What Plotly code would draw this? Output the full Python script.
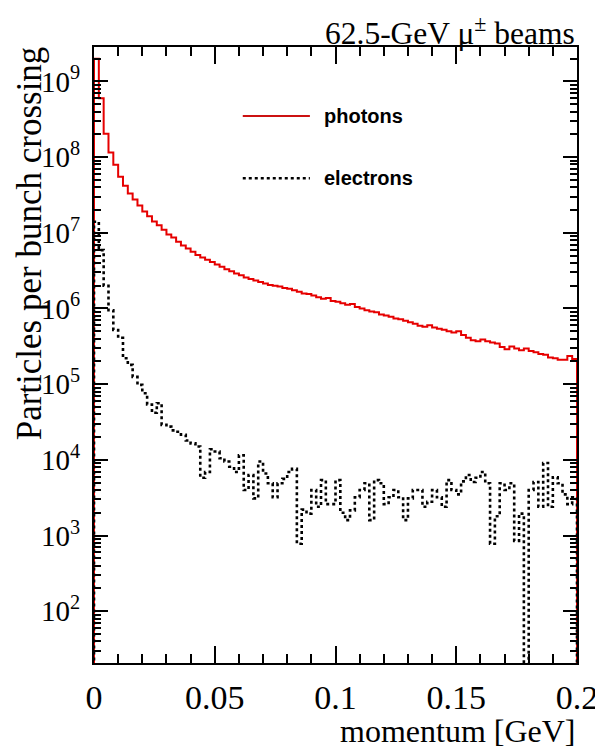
import numpy as np
import plotly.graph_objects as go

# ---------------- data ----------------
n_bins = 100
p_min, p_max = 0.0, 0.2          # momentum range [GeV]
below_axis = 1.0                 # value used for the histogram's drop to the floor

photons = [
    2.0e9, 6.0e8, 2.04e8, 1.15e8, 7.9e7, 5.5e7, 4.17e7, 3.31e7, 2.75e7, 2.29e7,
    1.91e7, 1.66e7, 1.41e7, 1.26e7, 1.10e7, 9.5e6, 8.7e6, 7.6e6, 6.8e6, 6.2e6,
    5.6e6, 5.1e6, 4.7e6, 4.4e6, 4.1e6, 3.8e6, 3.55e6, 3.3e6, 3.1e6, 2.9e6,
    2.75e6, 2.57e6, 2.45e6, 2.34e6, 2.24e6, 2.14e6, 2.04e6, 2.0e6, 1.95e6, 1.86e6,
    1.82e6, 1.74e6, 1.66e6, 1.58e6, 1.55e6, 1.48e6, 1.41e6, 1.35e6, 1.38e6, 1.26e6,
    1.23e6, 1.17e6, 1.12e6, 1.15e6, 1.05e6, 1.0e6, 9.5e5, 9.1e5, 8.9e5, 8.3e5,
    8.1e5, 7.8e5, 7.4e5, 7.2e5, 6.9e5, 6.6e5, 6.3e5, 5.9e5, 5.75e5, 6.0e5,
    5.6e5, 5.4e5, 5.25e5, 5.0e5, 4.8e5, 5.0e5, 4.45e5, 4.1e5, 3.8e5, 3.7e5,
    3.9e5, 3.7e5, 3.55e5, 3.45e5, 3.1e5, 2.9e5, 3.15e5, 2.95e5, 2.8e5, 2.95e5,
    2.75e5, 2.65e5, 2.5e5, 2.45e5, 2.25e5, 2.2e5, 2.1e5, 2.1e5, 2.35e5, 2.15e5,
]

electrons = [
    1.4e7, 5.9e6, 2.0e6, 9.5e5, 5.2e5, 4.1e5, 2.2e5, 1.8e5, 1.25e5, 9.8e4,
    7.6e4, 5.4e4, 4.2e4, 5.6e4, 2.9e4, 2.75e4, 2.45e4, 2.35e4, 2.15e4, 1.8e4,
    1.65e4, 1.5e4, 5.8e3, 6.9e3, 1.38e4, 1.29e4, 1.05e4, 9.5e3, 8.1e3, 6.9e3,
    1.15e4, 4.0e3, 6.3e3, 3.1e3, 9.5e3, 6.6e3, 4.9e3, 3.2e3, 4.9e3, 5.6e3,
    6.9e3, 7.6e3, 7.8e2, 2.2e3, 1.95e3, 4.0e3, 2.4e3, 5.4e3, 2.6e3, 2.6e3,
    5.4e3, 2.0e3, 1.6e3, 2.15e3, 3.2e3, 4.0e3, 4.9e3, 1.6e3, 5.4e3, 4.9e3,
    2.6e3, 3.2e3, 4.0e3, 3.2e3, 1.6e3, 3.1e3, 4.0e3, 4.0e3, 2.4e3, 2.8e3,
    4.0e3, 3.2e3, 2.4e3, 5.4e3, 4.0e3, 3.5e3, 5.2e3, 6.3e3, 5.1e3, 5.8e3,
    6.9e3, 4.9e3, 7.8e2, 1.8e3, 4.9e3, 4.0e3, 4.9e3, 8.5e2, 1.95e3, 0.0,
    4.0e3, 5.1e3, 2.4e3, 9.1e3, 2.4e3, 5.9e3, 4.9e3, 3.5e3, 2.6e3, 3.2e3,
]

x_ticks = [0, 0.05, 0.1, 0.15, 0.2]
x_tick_text = ["0", "0.05", "0.1", "0.15", "0.2"]
y_decades = [2, 3, 4, 5, 6, 7, 8, 9]

title_text = "62.5-GeV μ<sup>±</sup> beams"
x_title = "momentum [GeV]"
y_title = "Particles per bunch crossing"
names = ["photons", "electrons"]

# ---------------- build ----------------
edges = np.linspace(p_min, p_max, n_bins + 1)


def step_xy(vals):
    v = [max(a, below_axis) for a in vals]
    xs = [edges[0]] + list(edges[:-1]) + [edges[-1], edges[-1]]
    ys = [below_axis] + v + [v[-1], below_axis]
    return xs, ys


fig = go.Figure()
xs, ys = step_xy(photons)
fig.add_trace(go.Scatter(x=xs, y=ys, mode="lines", line_shape="hv",
                         line=dict(color="#e60000", width=2), name=names[0],
                         showlegend=False))
xs, ys = step_xy(electrons)
fig.add_trace(go.Scatter(x=xs, y=ys, mode="lines", line_shape="hv",
                         line=dict(color="black", width=2.6, dash="3px,3px"),
                         name=names[1], showlegend=False))

minor_vals = [m * 10 ** d for d in range(1, 10) for m in range(2, 10)]

serif = "Liberation Serif"
# the page body adds an 8px offset; margins compensate for it
fig.update_layout(
    width=603, height=751,
    margin=dict(l=86, r=34, t=39, b=96),
    plot_bgcolor="white", paper_bgcolor="white",
    font=dict(family=serif, color="black"),
    showlegend=False,
)
fig.update_xaxes(
    range=[p_min, p_max], showgrid=False, zeroline=False,
    showline=True, linecolor="black", linewidth=2, mirror="allticks",
    ticks="inside", ticklen=17, tickwidth=1.5, tickcolor="black",
    tickvals=x_ticks, ticktext=x_tick_text,
    tickfont=dict(family=serif, size=34, color="black"),
    ticklabelstandoff=3,
    minor=dict(ticks="inside", ticklen=9, tickwidth=1.5, tickcolor="black",
               dtick=0.01, showgrid=False),
)
fig.update_yaxes(
    type="log", range=[1.316, 9.455], showgrid=False, zeroline=False,
    showline=True, linecolor="black", linewidth=2, mirror="allticks",
    ticks="inside", ticklen=14, tickwidth=1.5, tickcolor="black",
    tickvals=[10 ** d for d in y_decades],
    ticktext=["10<sup>%d</sup>" % d for d in y_decades],
    tickfont=dict(family=serif, size=29, color="black"),
    ticklabelstandoff=6,
    minor=dict(ticks="inside", ticklen=7, tickwidth=1.5, tickcolor="black",
               tickvals=minor_vals, showgrid=False),
)

# titles
fig.add_annotation(text=title_text, xref="paper", yref="paper", x=1.0, y=1.062,
                   xanchor="right", yanchor="top", showarrow=False,
                   font=dict(family=serif, size=31.5, color="black"))
fig.add_annotation(text=x_title, xref="paper", yref="paper", x=1.002, y=-0.1105,
                   xanchor="right", yanchor="middle", showarrow=False,
                   font=dict(family=serif, size=32, color="black"))
fig.add_annotation(text=y_title, xref="paper", yref="paper", x=-0.133, y=1.004,
                   xanchor="center", yanchor="top", textangle=-90, showarrow=False,
                   font=dict(family=serif, size=35, color="black"))

# legend drawn by hand
leg_font = dict(family="Liberation Sans", size=20, color="black")
fig.add_shape(type="line", xref="paper", yref="paper", x0=0.308, x1=0.447,
              y0=0.888, y1=0.888, line=dict(color="#cc1111", width=2))
fig.add_shape(type="line", xref="paper", yref="paper", x0=0.308, x1=0.447,
              y0=0.787, y1=0.787, line=dict(color="black", width=2.6, dash="3px,3px"))
fig.add_annotation(text="<b>%s</b>" % names[0], xref="paper", yref="paper",
                   x=0.4716, y=0.888, xanchor="left", yanchor="middle",
                   showarrow=False, font=leg_font)
fig.add_annotation(text="<b>%s</b>" % names[1], xref="paper", yref="paper",
                   x=0.4716, y=0.787, xanchor="left", yanchor="middle",
                   showarrow=False, font=leg_font)

fig.write_html("out.html", config={"displayModeBar": False})
